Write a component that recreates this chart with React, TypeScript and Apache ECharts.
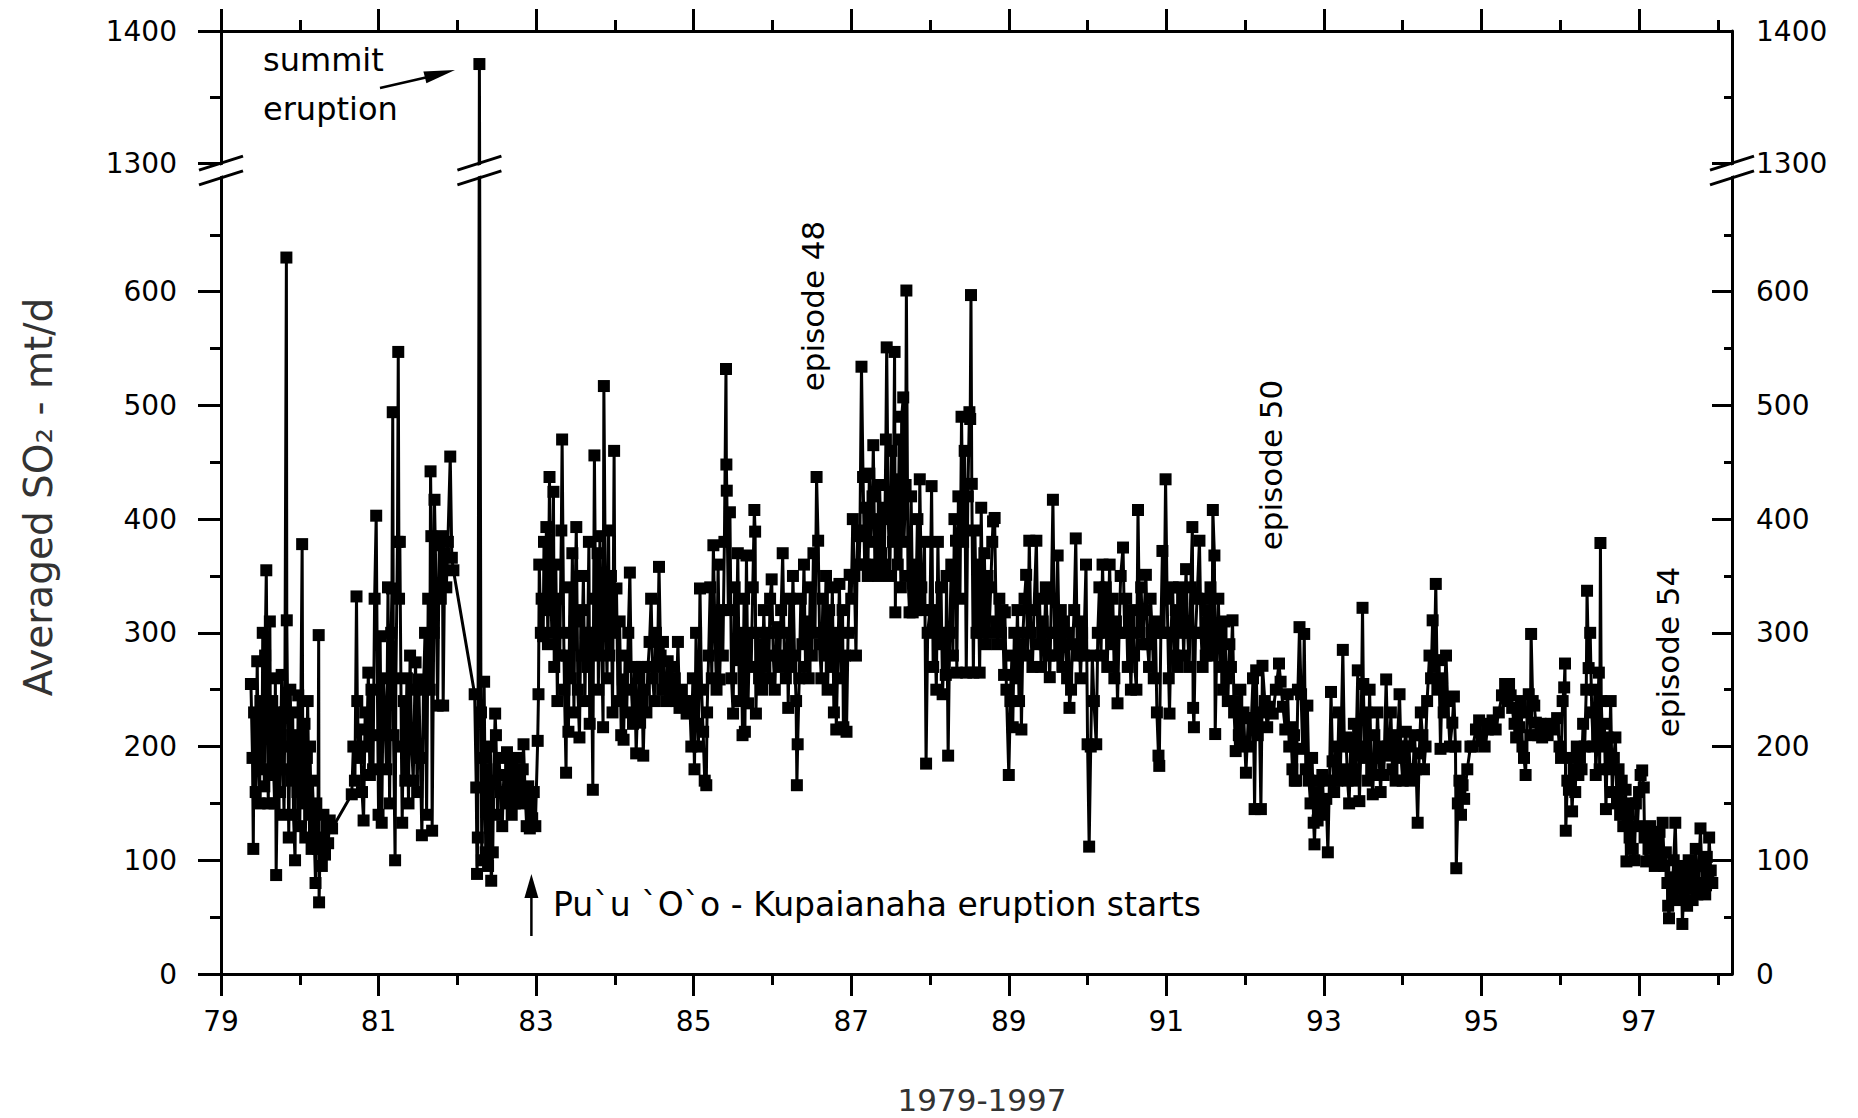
import React, { useEffect, useRef } from "react";
import * as echarts from "echarts";

// ---------------- axis / tick values ----------------
const X_MIN = 79;
const X_MAX = 98.18;
const X_TICKS = [79, 81, 83, 85, 87, 89, 91, 93, 95, 97];
const X_MINOR = [80, 82, 84, 86, 88, 90, 92, 94, 96, 98];
const Y_TICKS = [0, 100, 200, 300, 400, 500, 600, 1300, 1400];
const Y_MINOR = [50, 150, 250, 350, 450, 550, 650, 1350];

// broken y axis: 0..700 linear, then 1300..1400 on a slightly larger scale
const LOW_TOP = 700;
const AX_1300 = 713;
const K_UP = 1.162;
const toAxis = (v: number) => (v <= LOW_TOP ? v : AX_1300 + (v - 1300) * K_UP);
const Y_MAX = toAxis(1400);

// ---------------- data: [year (19xx), averaged SO2 mt/d] ----------------
const p1979_80: [number, number][] = [
  [79.38, 255], [79.40, 190], [79.41, 110], [79.42, 230], [79.44, 160], [79.46, 275], [79.47, 200], [79.49, 150],
  [79.50, 240], [79.52, 180], [79.53, 300], [79.55, 165], [79.56, 280], [79.575, 355], [79.59, 210], [79.60, 150],
  [79.62, 310], [79.63, 175], [79.65, 240], [79.66, 200], [79.68, 150], [79.69, 260], [79.70, 87], [79.72, 190],
  [79.73, 230], [79.75, 160], [79.76, 210], [79.77, 263], [79.79, 180], [79.80, 140], [79.81, 230], [79.83, 630],
  [79.835, 311], [79.85, 200], [79.86, 120], [79.88, 250], [79.89, 170], [79.91, 230], [79.92, 140], [79.94, 100],
  [79.95, 210], [79.97, 160], [79.98, 245], [80.00, 130], [80.01, 200], [80.03, 378], [80.04, 150], [80.06, 220],
  [80.07, 120], [80.09, 190], [80.10, 240], [80.12, 140], [80.13, 200], [80.15, 110], [80.16, 170], [80.18, 130],
  [80.20, 80], [80.21, 150], [80.23, 110], [80.24, 298], [80.245, 63], [80.26, 120], [80.28, 95], [80.30, 140],
  [80.32, 105], [80.34, 130], [80.36, 115], [80.38, 135], [80.41, 128],
];
const p1980_81: [number, number][] = [
  [80.66, 158], [80.68, 200], [80.70, 170], [80.72, 332], [80.73, 240], [80.75, 190], [80.77, 215], [80.79, 160],
  [80.81, 135], [80.83, 230], [80.85, 200], [80.87, 265], [80.89, 175], [80.91, 250], [80.93, 180], [80.95, 330],
  [80.97, 403], [80.99, 210], [81.00, 140], [81.02, 297], [81.04, 133], [81.06, 260], [81.08, 229], [81.10, 180],
  [81.12, 340], [81.14, 150], [81.16, 300], [81.17, 339], [81.18, 494], [81.19, 210], [81.21, 100], [81.22, 260],
  [81.24, 380], [81.25, 547], [81.26, 330], [81.27, 380], [81.29, 200], [81.30, 133], [81.32, 240], [81.34, 170],
  [81.36, 260], [81.38, 150], [81.40, 280], [81.42, 200], [81.44, 170], [81.46, 250], [81.47, 274], [81.49, 160],
  [81.51, 259], [81.53, 190], [81.55, 122], [81.57, 250], [81.59, 300], [81.61, 140], [81.63, 330], [81.65, 250],
  [81.66, 442], [81.67, 385], [81.68, 126], [81.70, 300], [81.71, 417], [81.73, 340], [81.75, 236], [81.77, 377],
  [81.79, 330], [81.81, 385], [81.82, 236], [81.84, 370], [81.86, 340], [81.88, 380], [81.91, 455], [81.93, 366],
  [81.95, 355],
];
const p1982: [number, number][] = [
  [82.22, 246], [82.24, 164], [82.25, 88], [82.26, 120], [82.28, 1375], [82.30, 230], [82.31, 100], [82.33, 190],
  [82.34, 257], [82.36, 107], [82.37, 180], [82.39, 95], [82.40, 150], [82.42, 200], [82.43, 82], [82.45, 107],
  [82.46, 170], [82.48, 229], [82.49, 210], [82.51, 140], [82.53, 190], [82.55, 160], [82.57, 130], [82.59, 175],
  [82.61, 150], [82.63, 195], [82.65, 160], [82.67, 185], [82.69, 140], [82.71, 175], [82.73, 150], [82.75, 190],
  [82.77, 160], [82.79, 175], [82.81, 150], [82.83, 180], [82.84, 202], [82.86, 160], [82.88, 130], [82.90, 165],
  [82.92, 128], [82.93, 150], [82.95, 137], [82.97, 160], [82.99, 130],
];
const p1983_84: [number, number][] = [
  [83.02, 205], [83.03, 246], [83.04, 360], [83.06, 300], [83.07, 330], [83.09, 297], [83.10, 380], [83.12, 320],
  [83.13, 393], [83.15, 290], [83.17, 437], [83.18, 350], [83.20, 300], [83.22, 424], [83.23, 270], [83.25, 360],
  [83.27, 240], [83.28, 330], [83.30, 280], [83.32, 390], [83.33, 470], [83.35, 300], [83.36, 250], [83.38, 177],
  [83.39, 280], [83.41, 213], [83.43, 340], [83.44, 260], [83.46, 370], [83.48, 230], [83.49, 310], [83.51, 393],
  [83.53, 250], [83.55, 208], [83.57, 320], [83.58, 280], [83.60, 350], [83.62, 240], [83.63, 300], [83.65, 270],
  [83.67, 380], [83.68, 220], [83.70, 300], [83.72, 162], [83.73, 330], [83.74, 456], [83.76, 280], [83.78, 370],
  [83.79, 250], [83.81, 385], [83.83, 300], [83.85, 217], [83.86, 517], [83.88, 330], [83.90, 260], [83.92, 390],
  [83.93, 280], [83.95, 350], [83.97, 230], [83.99, 460], [84.00, 300], [84.02, 339], [84.04, 240], [84.06, 310],
  [84.08, 210], [84.10, 259], [84.11, 206], [84.13, 280], [84.15, 230], [84.17, 300], [84.19, 353], [84.21, 250],
  [84.23, 220], [84.25, 270], [84.27, 194], [84.29, 240], [84.31, 260], [84.32, 221], [84.34, 270], [84.36, 192],
  [84.38, 250], [84.40, 230], [84.42, 270], [84.44, 292], [84.46, 330], [84.48, 260], [84.50, 240], [84.52, 300],
  [84.54, 270], [84.56, 358], [84.58, 280], [84.60, 250], [84.61, 292], [84.63, 260], [84.65, 240], [84.67, 275],
  [84.70, 250], [84.72, 270], [84.74, 245], [84.76, 260], [84.78, 240], [84.80, 292], [84.82, 234], [84.85, 250],
  [84.88, 240], [84.91, 229],
];
const p1985: [number, number][] = [
  [84.95, 240], [84.97, 200], [84.99, 260], [85.01, 180], [85.03, 300], [85.05, 220], [85.06, 200], [85.08, 339],
  [85.10, 250], [85.12, 213], [85.14, 170], [85.16, 166], [85.17, 230], [85.19, 280], [85.21, 340], [85.23, 260],
  [85.25, 377], [85.27, 300], [85.29, 250], [85.31, 360], [85.33, 259], [85.35, 320], [85.37, 280], [85.39, 380],
  [85.41, 532], [85.415, 448], [85.42, 425], [85.44, 320], [85.46, 406], [85.48, 260], [85.50, 229], [85.52, 340],
  [85.54, 276], [85.56, 370], [85.58, 240], [85.60, 300], [85.62, 210], [85.64, 330], [85.65, 213], [85.67, 368],
  [85.69, 238], [85.71, 300], [85.73, 270], [85.75, 340], [85.77, 408], [85.78, 389], [85.79, 229], [85.81, 300],
  [85.83, 260], [85.85, 290],
];
const p1986: [number, number][] = [
  [85.87, 250], [85.89, 320], [85.91, 270], [85.93, 300], [85.95, 260], [85.97, 330], [85.99, 347], [86.01, 280],
  [86.03, 250], [86.05, 300], [86.07, 305], [86.09, 270], [86.11, 320], [86.13, 370], [86.15, 280], [86.17, 260],
  [86.19, 300], [86.20, 234], [86.22, 330], [86.24, 270], [86.26, 350], [86.28, 280], [86.30, 240], [86.31, 166],
  [86.32, 202], [86.34, 260], [86.36, 330], [86.38, 290], [86.40, 360], [86.42, 270], [86.44, 310], [86.46, 260],
  [86.48, 340], [86.50, 280], [86.52, 370], [86.54, 300], [86.56, 437], [86.58, 381], [86.60, 290], [86.62, 260],
  [86.64, 330], [86.66, 280], [86.68, 350], [86.70, 250], [86.72, 320], [86.74, 270], [86.76, 340], [86.78, 230],
  [86.80, 300], [86.81, 215], [86.83, 280], [86.85, 343], [86.87, 260], [86.89, 320], [86.90, 217], [86.92, 280],
  [86.94, 213], [86.96, 300], [86.98, 351],
];
const p1987: [number, number][] = [
  [87.00, 330], [87.02, 400], [87.04, 350], [87.06, 280], [87.08, 390], [87.10, 360], [87.11, 385], [87.13, 534],
  [87.15, 437], [87.17, 360], [87.19, 410], [87.21, 350], [87.23, 440], [87.25, 380], [87.27, 420], [87.28, 465],
  [87.30, 360], [87.32, 400], [87.34, 350], [87.36, 430], [87.38, 370], [87.40, 410], [87.42, 360], [87.44, 470],
  [87.45, 551], [87.47, 400], [87.49, 350], [87.51, 460], [87.53, 380], [87.55, 547], [87.56, 318], [87.57, 435],
  [87.59, 360], [87.61, 470], [87.63, 340], [87.64, 490], [87.66, 507], [87.67, 380], [87.69, 430], [87.70, 601],
  [87.72, 350], [87.74, 318], [87.76, 420], [87.78, 318], [87.80, 360], [87.82, 320], [87.84, 400], [87.86, 330],
  [87.87, 435], [87.89, 340], [87.91, 320], [87.93, 380], [87.95, 185], [87.97, 300], [88.00, 320], [88.02, 429],
  [88.04, 270],
];
const p1988: [number, number][] = [
  [88.06, 310], [88.08, 250], [88.10, 380], [88.12, 290], [88.14, 340], [88.16, 246], [88.18, 300], [88.20, 263],
  [88.21, 350], [88.23, 192], [88.25, 300], [88.27, 360], [88.29, 280], [88.31, 400], [88.33, 381], [88.34, 265],
  [88.36, 420], [88.38, 330], [88.40, 490], [88.42, 380], [88.44, 460], [88.46, 265], [88.48, 420], [88.50, 494],
  [88.51, 488], [88.52, 597], [88.53, 431], [88.55, 265], [88.57, 390], [88.59, 300], [88.61, 360], [88.63, 265],
  [88.65, 410], [88.67, 300], [88.69, 370], [88.71, 290], [88.73, 350], [88.75, 300], [88.77, 340], [88.79, 380],
  [88.80, 398], [88.82, 401], [88.84, 310], [88.86, 290], [88.88, 330], [88.90, 300],
];
const p1989_90: [number, number][] = [
  [88.92, 320], [88.94, 263], [88.95, 318], [88.97, 250], [89.00, 175], [89.02, 240], [89.04, 280], [89.05, 217],
  [89.07, 300], [89.09, 260], [89.11, 320], [89.13, 240], [89.15, 290], [89.16, 215], [89.18, 300], [89.20, 330],
  [89.22, 351], [89.24, 280], [89.26, 381], [89.28, 300], [89.30, 270], [89.32, 320], [89.35, 381], [89.37, 290],
  [89.39, 330], [89.41, 270], [89.43, 310], [89.45, 290], [89.47, 340], [89.49, 300], [89.51, 280], [89.52, 261],
  [89.54, 330], [89.56, 417], [89.58, 300], [89.60, 280], [89.62, 368], [89.64, 290], [89.66, 320], [89.68, 270],
  [89.70, 310], [89.72, 290], [89.74, 260], [89.76, 300], [89.77, 234], [89.79, 250], [89.81, 290], [89.83, 320],
  [89.85, 383], [89.87, 280], [89.89, 310], [89.91, 260], [89.93, 300], [89.95, 280], [89.98, 360], [90.00, 202],
  [90.02, 112], [90.04, 200], [90.06, 280], [90.08, 240], [90.11, 202], [90.13, 300], [90.15, 340], [90.17, 280],
  [90.19, 360], [90.21, 300], [90.23, 340], [90.25, 270], [90.28, 360], [90.30, 290], [90.32, 330], [90.34, 260],
  [90.36, 310], [90.38, 238], [90.40, 300], [90.42, 350], [90.45, 375], [90.47, 300], [90.49, 330], [90.51, 270],
  [90.53, 310], [90.55, 250], [90.57, 320], [90.59, 280], [90.62, 250], [90.64, 408], [90.66, 300], [90.68, 340],
  [90.70, 290], [90.72, 320], [90.74, 351], [90.76, 290], [90.78, 270], [90.80, 330], [90.82, 300], [90.84, 260],
  [90.86, 310], [90.88, 230], [90.90, 192], [90.91, 183], [90.93, 300], [90.95, 372], [90.97, 300], [90.99, 435],
];
const p1991_92: [number, number][] = [
  [91.01, 330], [91.03, 260], [91.04, 229], [91.06, 300], [91.08, 340], [91.10, 280], [91.12, 320], [91.14, 270],
  [91.16, 340], [91.18, 300], [91.20, 330], [91.22, 280], [91.25, 356], [91.27, 300], [91.29, 270], [91.31, 340],
  [91.33, 393], [91.34, 234], [91.35, 217], [91.37, 300], [91.39, 330], [91.42, 381], [91.44, 300], [91.46, 270],
  [91.48, 330], [91.50, 280], [91.52, 320], [91.54, 290], [91.56, 340], [91.58, 280], [91.59, 408], [91.61, 368],
  [91.62, 211], [91.64, 290], [91.66, 330], [91.68, 270], [91.70, 300], [91.72, 250], [91.74, 310], [91.76, 260],
  [91.78, 240], [91.80, 290], [91.82, 270], [91.84, 311], [91.86, 230], [91.88, 196], [91.90, 240], [91.92, 210],
  [91.94, 250], [91.96, 200], [91.98, 230], [92.01, 177], [92.04, 225], [92.06, 200], [92.08, 225], [92.10, 260],
  [92.12, 145], [92.14, 267], [92.16, 210], [92.18, 230],
];
const p1992_94: [number, number][] = [
  [92.20, 145], [92.22, 271], [92.25, 240], [92.28, 217], [92.31, 235], [92.35, 229], [92.39, 250], [92.43, 273],
  [92.45, 257], [92.48, 235], [92.51, 215], [92.54, 246], [92.56, 200], [92.58, 217], [92.60, 180], [92.62, 210],
  [92.63, 170], [92.65, 170], [92.67, 250], [92.69, 305], [92.71, 246], [92.73, 198], [92.75, 299], [92.77, 180],
  [92.79, 236], [92.81, 170], [92.83, 150], [92.85, 190], [92.87, 133], [92.88, 114], [92.90, 160], [92.92, 135],
  [92.94, 170], [92.96, 150], [92.98, 175], [93.00, 140], [93.03, 154], [93.05, 107], [93.07, 170], [93.09, 248],
  [93.11, 187], [93.13, 160], [93.15, 200], [93.17, 170], [93.19, 230], [93.21, 180], [93.24, 285], [93.26, 200],
  [93.28, 208], [93.30, 170], [93.32, 150], [93.34, 200], [93.36, 180], [93.38, 220], [93.40, 170], [93.43, 267],
  [93.45, 152], [93.47, 200], [93.49, 322], [93.50, 255], [93.52, 190], [93.54, 230], [93.56, 170], [93.58, 250],
  [93.60, 180], [93.62, 158], [93.64, 210], [93.66, 175], [93.68, 230], [93.70, 190], [93.72, 160], [93.74, 200],
  [93.76, 175], [93.79, 259], [93.81, 200], [93.83, 192], [93.85, 230], [93.87, 180], [93.89, 210], [93.91, 170],
  [93.93, 200], [93.96, 246], [93.98, 190], [94.00, 170], [94.02, 200], [94.04, 213], [94.06, 180], [94.08, 200],
  [94.10, 170], [94.13, 175], [94.15, 210], [94.17, 180], [94.19, 133], [94.21, 194], [94.23, 230], [94.25, 210],
  [94.27, 180], [94.29, 200], [94.31, 240], [94.34, 280], [94.36, 260], [94.38, 311], [94.40, 270], [94.42, 343],
  [94.44, 250], [94.46, 276], [94.48, 198], [94.50, 260], [94.52, 230], [94.55, 280], [94.57, 240], [94.60, 200],
  [94.63, 221], [94.65, 244], [94.67, 200], [94.68, 93], [94.70, 150], [94.72, 170], [94.74, 140], [94.76, 166],
  [94.78, 154],
];
const p1995_96: [number, number][] = [
  [94.82, 180], [94.86, 200], [94.89, 200], [94.93, 215], [94.97, 223], [95.00, 205], [95.04, 200], [95.08, 215],
  [95.11, 220], [95.14, 223], [95.18, 215], [95.22, 230], [95.26, 245], [95.30, 255], [95.33, 240], [95.35, 255],
  [95.37, 245], [95.39, 234], [95.42, 220], [95.44, 208], [95.46, 230], [95.48, 217], [95.50, 240], [95.52, 200],
  [95.54, 190], [95.56, 175], [95.58, 230], [95.60, 246], [95.62, 210], [95.63, 299], [95.65, 240], [95.67, 236],
  [95.69, 221], [95.72, 210], [95.75, 220], [95.77, 208], [95.80, 215], [95.84, 210], [95.88, 220], [95.92, 215],
  [95.96, 225], [95.99, 200], [96.01, 190], [96.03, 240], [96.05, 252], [96.06, 273], [96.07, 126], [96.09, 170],
  [96.11, 162], [96.13, 190], [96.15, 143], [96.17, 180], [96.19, 160], [96.21, 200], [96.23, 175], [96.25, 190],
  [96.27, 180], [96.29, 220], [96.31, 200], [96.33, 250], [96.34, 337], [96.36, 269], [96.38, 300], [96.40, 230],
  [96.42, 200], [96.44, 250], [96.45, 175], [96.47, 210], [96.49, 265], [96.50, 180], [96.51, 379], [96.52, 240],
  [96.54, 200], [96.56, 220], [96.58, 145], [96.60, 208], [96.62, 180], [96.64, 240], [96.66, 160], [96.68, 190],
  [96.70, 208], [96.72, 150], [96.74, 180], [96.76, 140], [96.78, 170], [96.80, 130], [96.83, 162], [96.84, 99],
  [96.86, 140], [96.88, 120], [96.90, 150],
];
const p1997: [number, number][] = [
  [96.92, 110], [96.94, 100], [96.96, 150], [96.98, 130], [97.00, 160], [97.02, 175], [97.04, 179], [97.06, 164],
  [97.07, 120], [97.09, 99], [97.10, 128], [97.12, 110], [97.14, 130], [97.16, 100], [97.18, 120], [97.20, 95],
  [97.22, 115], [97.24, 100], [97.26, 125], [97.28, 105], [97.30, 133], [97.32, 95], [97.34, 107], [97.36, 80],
  [97.37, 60], [97.38, 49], [97.40, 85], [97.42, 70], [97.44, 100], [97.46, 133], [97.48, 80], [97.50, 95],
  [97.52, 65], [97.54, 85], [97.55, 44], [97.57, 75], [97.59, 90], [97.61, 60], [97.63, 100], [97.65, 75],
  [97.67, 90], [97.68, 65], [97.70, 85], [97.72, 110], [97.74, 70], [97.76, 95], [97.78, 128], [97.80, 80],
  [97.82, 100], [97.84, 70], [97.85, 78], [97.86, 103], [97.88, 90], [97.89, 120], [97.91, 91], [97.93, 80],
];

const ALL_DATA: [number, number][] = [
  ...p1979_80, ...p1980_81, ...p1982, ...p1983_84, ...p1985, ...p1986, ...p1987, ...p1988,
  ...p1989_90, ...p1991_92, ...p1992_94, ...p1995_96, ...p1997,
];

const SUMMIT_YEAR = 82.28;
const PUUOO_YEAR = 82.94;

const FONT = "DejaVu Sans";
const BLACK = "#000";
const TICK_FONT = 28;

function yLabel(v: number) {
  for (const t of Y_TICKS) if (Math.abs(toAxis(t) - v) < 0.5) return String(t);
  return "";
}

function makeXAxis(position: "top" | "bottom", ticks: number[], len: number, withLine: boolean, withLabel: boolean) {
  return {
    type: "value",
    position,
    min: X_MIN,
    max: X_MAX,
    axisLine: { show: withLine, onZero: false, lineStyle: { color: BLACK, width: 3 } },
    axisTick: { show: true, customValues: ticks, length: len, inside: false, lineStyle: { color: BLACK, width: 3 } },
    axisLabel: withLabel
      ? { show: true, customValues: ticks, margin: 33, fontSize: TICK_FONT, fontFamily: FONT, color: BLACK }
      : { show: false },
    splitLine: { show: false },
  };
}

function makeYAxis(position: "left" | "right", ticks: number[], len: number, inside: boolean, withLine: boolean, withLabel: boolean) {
  return {
    type: "value",
    position,
    min: 0,
    max: Y_MAX,
    axisLine: { show: withLine, onZero: false, lineStyle: { color: BLACK, width: 3 } },
    axisTick: { show: true, customValues: ticks.map(toAxis), length: len, inside, lineStyle: { color: BLACK, width: 3 } },
    axisLabel: withLabel
      ? {
          show: true,
          customValues: ticks.map(toAxis),
          formatter: (v: number) => yLabel(v),
          margin: position === "left" ? 44 : 24,
          fontSize: TICK_FONT,
          fontFamily: FONT,
          color: BLACK,
        }
      : { show: false },
    splitLine: { show: false },
  };
}

function breakMark(cx: number, yTop: number, yBot: number) {
  const hw = 22;
  const dy = 7;
  return [
    {
      type: "polygon",
      z: 100,
      shape: {
        points: [
          [cx - hw, yTop + dy + 2],
          [cx + hw, yTop - dy + 2],
          [cx + hw, yBot - dy - 2],
          [cx - hw, yBot + dy - 2],
        ],
      },
      style: { fill: "#fff" },
    },
    { type: "line", z: 101, shape: { x1: cx - hw, y1: yTop + dy, x2: cx + hw, y2: yTop - dy }, style: { stroke: BLACK, lineWidth: 3 } },
    { type: "line", z: 101, shape: { x1: cx - hw, y1: yBot + dy, x2: cx + hw, y2: yBot - dy }, style: { stroke: BLACK, lineWidth: 3 } },
  ];
}

export default function App() {
  const ref = useRef<HTMLDivElement>(null);
  useEffect(() => {
    document.body.style.margin = "0";
    const chart = echarts.init(ref.current!, null, { renderer: "svg" });
    const option: any = {
      animation: false,
      backgroundColor: "#fff",
      grid: { left: 221, top: 31, width: 1511, height: 943, containLabel: false },
      xAxis: [
        makeXAxis("bottom", X_TICKS, 22, true, true),
        makeXAxis("bottom", X_MINOR, 11, false, false),
        makeXAxis("top", X_TICKS, 22, true, false),
        makeXAxis("top", X_MINOR, 11, false, false),
      ],
      yAxis: [
        makeYAxis("left", Y_TICKS, 23, false, true, true),
        makeYAxis("left", Y_MINOR, 11, false, false, false),
        makeYAxis("right", Y_TICKS, 20, true, true, true),
        makeYAxis("right", Y_MINOR, 8, true, false, false),
      ],
      series: [
        {
          type: "line",
          xAxisIndex: 0,
          yAxisIndex: 0,
          data: ALL_DATA.map(([x, y]) => [x, toAxis(y)]),
          symbol: "rect",
          symbolSize: 12,
          showAllSymbol: true,
          itemStyle: { color: BLACK },
          lineStyle: { color: BLACK, width: 3 },
          z: 5,
        },
      ],
    };
    chart.setOption(option);

    const px = (x: number, y: number) => chart.convertToPixel({ xAxisIndex: 0, yAxisIndex: 0 }, [x, y]) as number[];
    const yTop = px(X_MIN, toAxis(1300))[1];
    const yBot = px(X_MIN, toAxis(LOW_TOP))[1];
    const xLeft = px(X_MIN, 0)[0];
    const xRight = px(X_MAX, 0)[0];
    const xSummit = px(SUMMIT_YEAR, 0)[0];
    const xPuu = px(PUUOO_YEAR, 0)[0];
    const y0 = px(X_MIN, 0)[1];

    const textStyle = (text: string, size: number, extra: any = {}) => ({
      text,
      fontSize: size,
      fontFamily: FONT,
      fill: BLACK,
      ...extra,
    });

    const graphic: any[] = [
      ...breakMark(xLeft, yTop, yBot),
      ...breakMark(xRight, yTop, yBot),
      ...breakMark(xSummit, yTop, yBot),
      // summit eruption annotation
      { type: "text", z: 102, x: 263, y: 60, style: textStyle("summit", 32, { align: "left", verticalAlign: "middle" }) },
      { type: "text", z: 102, x: 263, y: 109, style: textStyle("eruption", 32, { align: "left", verticalAlign: "middle" }) },
      { type: "line", z: 102, shape: { x1: 380, y1: 88, x2: 428, y2: 77 }, style: { stroke: BLACK, lineWidth: 2.5 } },
      { type: "polygon", z: 102, shape: { points: [[455, 70], [423.4, 71.5], [426.4, 83.3]] }, style: { fill: BLACK } },
      // Pu`u `O`o arrow + text
      { type: "line", z: 102, shape: { x1: xPuu, y1: y0 - 38, x2: xPuu, y2: y0 - 85 }, style: { stroke: BLACK, lineWidth: 2.5 } },
      { type: "polygon", z: 102, shape: { points: [[xPuu, y0 - 100], [xPuu - 7, y0 - 76], [xPuu + 7, y0 - 76]] }, style: { fill: BLACK } },
      { type: "text", z: 102, x: 553, y: 904, style: textStyle("Pu`u `O`o - Kupaianaha eruption starts", 33, { align: "left", verticalAlign: "middle" }) },
      // episode labels
      { type: "text", z: 102, x: 813, y: 306, rotation: Math.PI / 2, style: textStyle("episode 48", 31, { align: "center", verticalAlign: "middle" }) },
      { type: "text", z: 102, x: 1271, y: 465, rotation: Math.PI / 2, style: textStyle("episode 50", 31, { align: "center", verticalAlign: "middle" }) },
      { type: "text", z: 102, x: 1668, y: 652, rotation: Math.PI / 2, style: textStyle("episode 54", 31, { align: "center", verticalAlign: "middle" }) },
      // axis titles
      { type: "text", z: 102, x: 38, y: 497, rotation: Math.PI / 2, style: textStyle("Averaged SO₂ - mt/d", 39, { align: "center", verticalAlign: "middle", fill: "#333" }) },
      { type: "text", z: 102, x: 982, y: 1100, style: textStyle("1979-1997", 31, { align: "center", verticalAlign: "middle", fill: "#333" }) },
    ];
    chart.setOption({ graphic });
    return () => chart.dispose();
  }, []);
  return <div ref={ref} style={{ width: 1858, height: 1118 }} />;
}
